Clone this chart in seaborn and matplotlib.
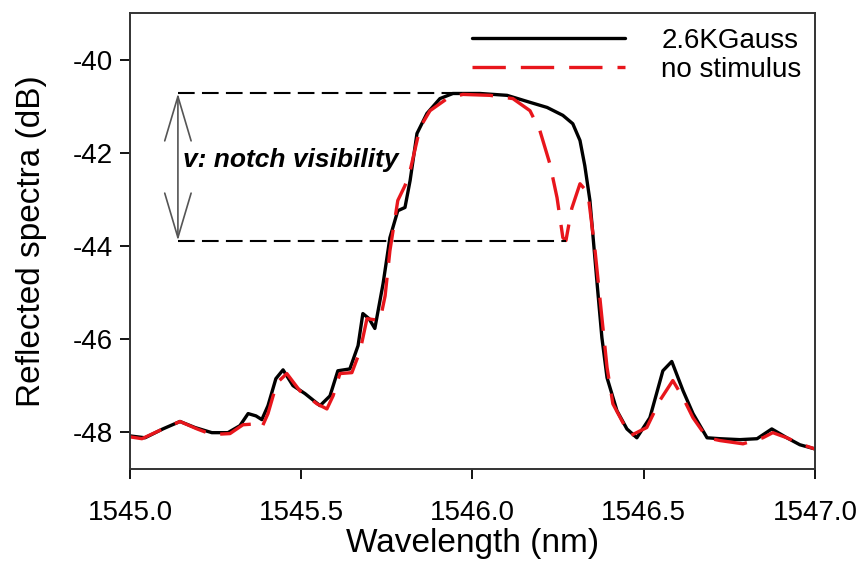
import numpy as np
import pandas as pd
import matplotlib
matplotlib.use('Agg')
import matplotlib.pyplot as plt
import seaborn as sns

# 2.6 KGauss spectrum (black)
wl_field = [1545.000, 1545.044, 1545.096, 1545.146, 1545.190, 1545.239, 1545.286,
            1545.321, 1545.345, 1545.368, 1545.385, 1545.403, 1545.426, 1545.447,
            1545.476, 1545.511, 1545.555, 1545.584, 1545.607, 1545.642, 1545.666,
            1545.680, 1545.698, 1545.715, 1545.739, 1545.759, 1545.782, 1545.803,
            1545.818, 1545.838, 1545.867, 1545.905, 1545.943, 1546.022, 1546.101,
            1546.168, 1546.218, 1546.264, 1546.293, 1546.314, 1546.328, 1546.343,
            1546.364, 1546.378, 1546.393, 1546.422, 1546.451, 1546.480, 1546.518,
            1546.556, 1546.582, 1546.615, 1546.644, 1546.685, 1546.723, 1546.781,
            1546.831, 1546.874, 1546.918, 1546.956, 1547.000]
db_field = [-48.09, -48.13, -47.94, -47.78, -47.91, -48.02, -48.02,
            -47.87, -47.61, -47.66, -47.74, -47.44, -46.86, -46.67,
            -47.01, -47.18, -47.44, -47.23, -46.69, -46.65, -46.15,
            -45.46, -45.57, -45.78, -44.82, -43.83, -43.25, -43.18,
            -42.60, -41.59, -41.16, -40.84, -40.73, -40.73, -40.77,
            -40.92, -41.03, -41.20, -41.38, -41.74, -42.28, -43.03,
            -44.82, -45.98, -46.84, -47.55, -47.94, -48.13, -47.70,
            -46.69, -46.49, -47.12, -47.61, -48.13, -48.15, -48.17,
            -48.15, -47.94, -48.13, -48.28, -48.37]

# no stimulus spectrum (red dashed)
wl_none = [1545.000, 1545.035, 1545.096, 1545.146, 1545.196, 1545.239, 1545.292,
           1545.330, 1545.371, 1545.385, 1545.403, 1545.429, 1545.458, 1545.496,
           1545.546, 1545.575, 1545.593, 1545.613, 1545.648, 1545.672, 1545.692,
           1545.730, 1545.745, 1545.759, 1545.782, 1545.803, 1545.818, 1545.847,
           1545.876, 1545.926, 1545.972, 1546.051, 1546.118, 1546.168, 1546.197,
           1546.226, 1546.247, 1546.264, 1546.273, 1546.290, 1546.314, 1546.337,
           1546.358, 1546.378, 1546.393, 1546.410, 1546.460, 1546.509, 1546.547,
           1546.585, 1546.615, 1546.644, 1546.685, 1546.723, 1546.790, 1546.848,
           1546.877, 1546.918, 1546.956, 1547.000]
db_none = [-48.11, -48.15, -47.94, -47.78, -47.94, -48.06, -48.04,
           -47.85, -47.83, -47.91, -47.61, -46.95, -46.75, -47.12,
           -47.40, -47.51, -47.23, -46.75, -46.73, -46.26, -45.57,
           -45.61, -45.08, -44.11, -43.03, -42.71, -42.39, -41.46,
           -41.10, -40.84, -40.75, -40.77, -40.84, -41.10, -41.53,
           -42.24, -42.97, -43.83, -43.89, -43.20, -42.67, -42.86,
           -44.11, -45.55, -46.62, -47.40, -48.09, -47.91, -47.33,
           -46.90, -47.27, -47.70, -48.13, -48.19, -48.26, -48.13,
           -48.02, -48.13, -48.26, -48.37]

x_ticks = [1545.0, 1545.5, 1546.0, 1546.5, 1547.0]
y_ticks = [-48, -46, -44, -42, -40]

df_field = pd.DataFrame({'wl': wl_field, 'db': db_field})
df_none = pd.DataFrame({'wl': wl_none, 'db': db_none})

sns.set_style('white')
plt.rcParams['font.family'] = ['Liberation Sans', 'DejaVu Sans']
plt.rcParams['axes.unicode_minus'] = False
plt.rcParams['text.color'] = 'black'
plt.rcParams['axes.labelcolor'] = 'black'
plt.rcParams['xtick.color'] = 'black'
plt.rcParams['ytick.color'] = 'black'

fig = plt.figure(figsize=(8.63, 5.65), dpi=100)
ax = fig.add_axes([0.1506, 0.170, 0.7937, 0.807])

sns.lineplot(data=df_field, x='wl', y='db', ax=ax, color='black', lw=2.4,
             estimator=None, sort=False, label='2.6KGauss')
sns.lineplot(data=df_none, x='wl', y='db', ax=ax, color='#e8161c', lw=2.4,
             estimator=None, sort=False, label='no stimulus')
ax.lines[1].set_dashes([10, 4.5])

# notch visibility annotation, levels taken from the data
top_i = int(np.argmax(db_field))
notch = df_none[(df_none.wl > 1546.2) & (df_none.wl < 1546.3)]
bot_i = notch.db.idxmin()
x0 = 1545.14
ax.plot([x0, wl_field[top_i]], [db_field[top_i]] * 2, color='black', lw=1.5,
        dashes=[8, 3.5])
ax.plot([x0, wl_none[bot_i]], [db_none[bot_i]] * 2, color='black', lw=1.5,
        dashes=[8, 3.5])
ax.annotate('', xy=(x0, db_field[top_i]), xytext=(x0, db_none[bot_i]),
            arrowprops=dict(arrowstyle='<->, head_length=3.2, head_width=0.95',
                            color='#555555', lw=1.2, shrinkA=0, shrinkB=0,
                            mutation_scale=10))
ax.text(1545.155, -42.15, 'v: notch visibility', fontsize=19,
        fontweight='bold', fontstyle='italic', va='center', ha='left')

ax.set_xlim(1545.0, 1547.0)
ax.set_ylim(-48.8, -39.0)
ax.set_xticks(x_ticks)
ax.set_xticklabels([f'{v:.1f}' for v in x_ticks])
ax.set_yticks(y_ticks)
ax.set_xlabel('Wavelength (nm)', fontsize=24, labelpad=2)
ax.set_ylabel('Reflected spectra (dB)', fontsize=24, labelpad=19)
ax.tick_params(axis='both', which='major', labelsize=20, length=7, width=1.3,
               direction='out', bottom=True, left=True)
ax.tick_params(axis='x', pad=15)
ax.tick_params(axis='y', pad=5)
for s in ax.spines.values():
    s.set_color('#333333')
    s.set_linewidth(1.4)

leg = ax.legend(loc='upper left', bbox_to_anchor=(0.5, 0.967), frameon=False,
                fontsize=20, handlelength=5.5, handletextpad=1.3,
                labelspacing=0.1, borderpad=0, borderaxespad=0)

fig.savefig('out.png', dpi=100)
